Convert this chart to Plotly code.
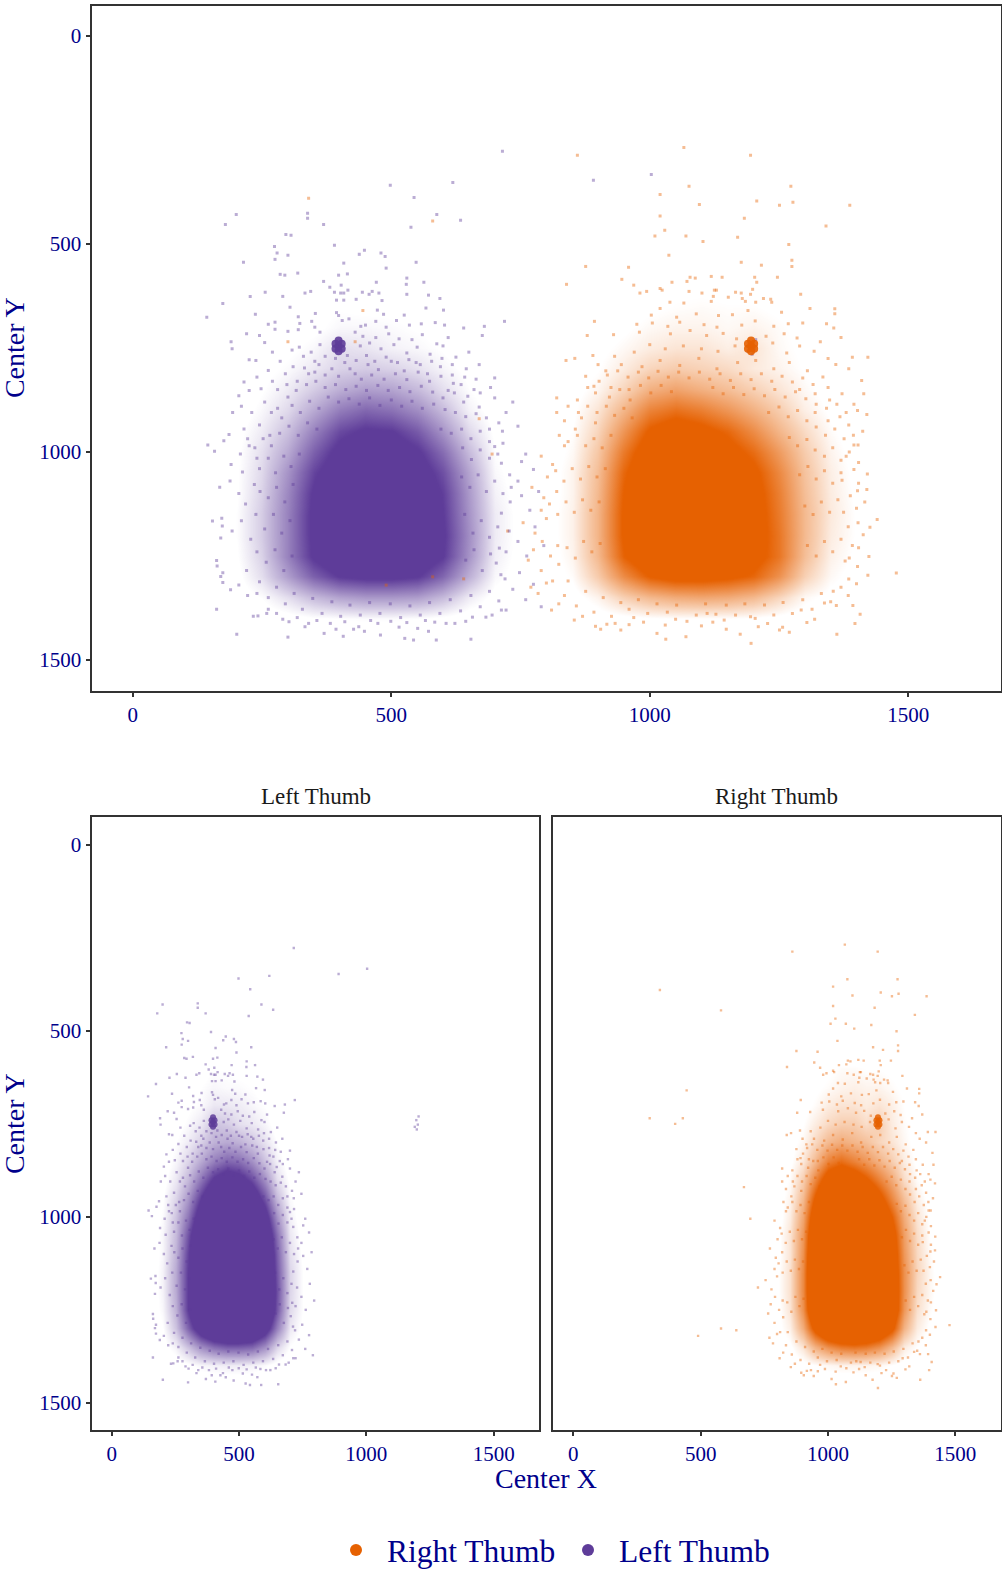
import plotly.graph_objects as go

ORANGE = "#E66101"
PURPLE = "#5E3C99"
NAVY = "#00008B"
FRAME = "#333333"
FONT = "Liberation Serif"

# Estimated share of dots per 50x50 cell (rows = Center Y, columns = Center X)
density_y = [550, 600, 650, 700, 750, 800, 850, 900, 950, 1000, 1050, 1100, 1150, 1200, 1250, 1300, 1350, 1400, 1450, 1500]
left_density_x = [100, 150, 200, 250, 300, 350, 400, 450, 500, 550, 600, 650, 700, 750, 800, 850]
left_density = [
    [0, 0, 0, 0, 0, 0, 0, 0, 0, 0, 0, 0, 0, 0, 0, 0],
    [0, 0, 0, .01, .02, .03, .05, .05, .04, .04, .02, .01, 0, 0, 0, 0],
    [0, 0, 0, .01, .03, .05, .07, .06, .06, .05, .03, .02, 0, 0, 0, 0],
    [0, 0, .01, .02, .04, .06, .10, .10, .09, .07, .05, .02, .01, 0, 0, 0],
    [0, 0, .01, .03, .06, .10, .18, .16, .12, .10, .07, .03, .01, 0, 0, 0],
    [0, 0, .01, .05, .09, .15, .22, .24, .22, .17, .11, .05, .02, 0, 0, 0],
    [0, 0, .02, .07, .14, .24, .34, .40, .38, .30, .18, .08, .02, 0, 0, 0],
    [0, 0, .03, .10, .20, .36, .52, .60, .56, .46, .30, .12, .04, .01, 0, 0],
    [0, .01, .05, .14, .28, .50, .70, .78, .76, .64, .44, .20, .06, .02, 0, 0],
    [0, .01, .06, .18, .36, .62, .82, .90, .88, .78, .58, .30, .08, .02, 0, 0],
    [0, .01, .07, .20, .44, .72, .90, .96, .95, .86, .68, .38, .10, .03, 0, 0],
    [0, .01, .07, .22, .48, .78, .92, .98, .98, .90, .74, .42, .12, .04, .01, 0],
    [0, .01, .08, .24, .50, .80, .94, 1, 1, .92, .76, .44, .14, .05, .01, 0],
    [0, .01, .08, .24, .50, .80, .94, 1, 1, .94, .78, .46, .14, .05, .01, 0],
    [0, .01, .07, .22, .50, .78, .92, .98, .97, .90, .76, .44, .13, .05, .01, 0],
    [0, 0, .05, .18, .40, .62, .76, .80, .80, .76, .60, .34, .10, .04, 0, 0],
    [0, 0, .03, .08, .18, .30, .38, .42, .42, .40, .30, .14, .05, .02, 0, 0],
    [0, 0, .01, .02, .04, .07, .08, .09, .09, .08, .06, .03, .01, 0, 0, 0],
    [0, 0, 0, 0, 0, .01, .01, .01, .01, .01, 0, 0, 0, 0, 0, 0],
    [0, 0, 0, 0, 0, 0, 0, 0, 0, 0, 0, 0, 0, 0, 0, 0],
]
right_density_x = [750, 800, 850, 900, 950, 1000, 1050, 1100, 1150, 1200, 1250, 1300, 1350, 1400, 1450, 1500]
right_density = [
    [0, 0, 0, 0, 0, 0, 0, 0, 0, 0, 0, 0, 0, 0, 0, 0],
    [0, 0, .01, .02, .03, .04, .06, .06, .05, .05, .04, .03, .01, 0, 0, 0],
    [0, 0, .01, .02, .04, .06, .08, .09, .08, .08, .06, .04, .02, 0, 0, 0],
    [0, 0, .01, .03, .06, .10, .12, .12, .10, .12, .09, .05, .02, .01, 0, 0],
    [0, 0, .02, .05, .10, .15, .18, .18, .14, .18, .10, .06, .03, .01, 0, 0],
    [0, .01, .03, .07, .15, .24, .28, .25, .22, .16, .12, .07, .03, .01, 0, 0],
    [0, .01, .04, .11, .24, .40, .46, .40, .34, .26, .18, .10, .04, .01, 0, 0],
    [0, .01, .06, .18, .38, .60, .68, .62, .52, .40, .28, .14, .06, .02, 0, 0],
    [0, .02, .08, .24, .52, .78, .88, .82, .72, .56, .38, .22, .09, .03, 0, 0],
    [0, .02, .10, .30, .64, .90, .98, .94, .84, .70, .50, .28, .12, .04, 0, 0],
    [0, .03, .12, .34, .72, .96, 1, .98, .92, .80, .58, .32, .14, .05, .01, 0],
    [0, .03, .12, .36, .76, .98, 1, 1, .95, .84, .62, .34, .15, .06, .01, 0],
    [0, .04, .13, .38, .78, .98, 1, 1, .96, .86, .64, .36, .16, .07, .01, 0],
    [0, .04, .13, .38, .78, .97, 1, 1, .97, .86, .66, .36, .15, .07, .01, 0],
    [0, .03, .12, .36, .74, .94, .98, .98, .94, .84, .66, .34, .13, .06, .01, 0],
    [0, .03, .09, .28, .56, .76, .84, .84, .80, .72, .54, .26, .10, .04, 0, 0],
    [0, .01, .04, .12, .26, .36, .42, .44, .42, .36, .24, .10, .05, .02, 0, 0],
    [0, 0, .01, .03, .05, .07, .08, .08, .08, .07, .05, .03, .02, .01, 0, 0],
    [0, 0, 0, 0, 0, .01, .01, .01, .01, .01, 0, 0, 0, 0, 0, 0],
    [0, 0, 0, 0, 0, 0, 0, 0, 0, 0, 0, 0, 0, 0, 0, 0],
]

# Individually readable dots (Center X, Center Y)
left_points = [
    (715, 277), (619, 352), (498, 359), (544, 388), (200, 429), (179, 453), (338, 426), (338, 438), (369, 453),
    (588, 429), (634, 443), (538, 460), (296, 477), (306, 479), (274, 506), (390, 503), (279, 522), (300, 527),
    (275, 537), (214, 544), (408, 546), (438, 525), (448, 515), (480, 522), (488, 530), (490, 558), (548, 544),
    (285, 573), (294, 575), (319, 570), (398, 575), (415, 572), (369, 590), (471, 592), (530, 582), (529, 597),
    (563, 592), (381, 604), (403, 599), (344, 614), (333, 618), (256, 616), (227, 626), (290, 626), (174, 643),
    (143, 676), (304, 652), (408, 618), (390, 616), (402, 618), (416, 611), (444, 616), (457, 621), (463, 614),
    (476, 618), (530, 621), (572, 623), (594, 631), (567, 654), (601, 659), (394, 635), (408, 635), (432, 633),
    (482, 636), (473, 659), (485, 669), (237, 669), (353, 667), (394, 665), (320, 675), (719, 686), (262, 693),
    (275, 688), (323, 691), (346, 686), (398, 672), (405, 684), (418, 680), (441, 698), (450, 695), (470, 686),
    (490, 700), (510, 684), (525, 671), (535, 695), (558, 692), (585, 689), (603, 695), (220, 716), (190, 735),
    (192, 752), (245, 720), (275, 705), (255, 737), (300, 710), (320, 706), (352, 700), (362, 712), (430, 712),
    (445, 722), (470, 725), (495, 716), (515, 728), (540, 730), (560, 718), (588, 740), (610, 725), (640, 702),
    (680, 698), (676, 720), (238, 780), (225, 778), (270, 760), (285, 782), (308, 755), (322, 748), (345, 760),
    (362, 742), (440, 745), (458, 738), (480, 752), (505, 742), (530, 762), (550, 748), (575, 765), (600, 745),
    (625, 772), (650, 760), (262, 804), (240, 820), (215, 832), (205, 865), (225, 852), (248, 848), (270, 830),
    (295, 812), (318, 830), (340, 812), (360, 790), (385, 800), (410, 785), (430, 812), (455, 790), (475, 802),
    (500, 782), (525, 805), (548, 785), (570, 812), (595, 795), (618, 815), (645, 800), (670, 790), (700, 822),
    (692, 845), (660, 850), (635, 838), (610, 852), (210, 890), (230, 905), (255, 880), (280, 895), (300, 868),
    (640, 880), (670, 892), (700, 870), (722, 905), (735, 880), (193, 905), (186, 958), (215, 945), (245, 935),
    (265, 960), (690, 945), (715, 950), (745, 938), (145, 983), (158, 998), (176, 973), (208, 1005), (225, 985),
    (190, 1030), (212, 1048), (240, 1015), (700, 987), (716, 979), (752, 1023), (713, 1027), (729, 1055), (745, 1070),
    (760, 1005), (775, 1042), (168, 1085), (188, 1070), (205, 1100), (218, 1125), (235, 1078), (709, 1231), (713, 1147),
    (730, 1120), (752, 1105), (768, 1140), (785, 1095), (154, 1166), (172, 1159), (173, 1178), (170, 1207), (192, 1190),
    (210, 1165), (228, 1210), (703, 1267), (728, 1190), (745, 1215), (762, 1250), (778, 1180), (795, 1225), (162, 1261),
    (163, 1274), (174, 1290), (170, 1299), (174, 1314), (189, 1331), (162, 1378), (205, 1320), (220, 1285), (240, 1340),
    (201, 1438), (300, 1445), (370, 1436), (407, 1443), (479, 1440), (526, 1448), (543, 1452), (587, 1452), (654, 1450),
    (722, 1380), (713, 1380), (695, 1392), (683, 1397), (657, 1397), (644, 1407), (623, 1412), (606, 1412), (584, 1409),
    (572, 1431), (551, 1424), (515, 1421), (499, 1407), (474, 1412), (448, 1431), (437, 1420), (427, 1426), (393, 1426),
    (382, 1412), (340, 1412), (333, 1420), (302, 1408), (290, 1402), (278, 1388), (259, 1388), (242, 1394), (233, 1395),
    (720, 1305), (735, 1330), (748, 1290), (760, 1355), (775, 1318), (790, 1372),
    (1003, 333), (891, 347), (1196, 740), (1202, 752), (1190, 758), (1205, 730), (1198, 765),
]
left_points_mid = [
    (330, 770), (352, 782), (372, 770), (392, 775), (415, 768), (432, 780), (452, 768), (468, 782), (490, 772), (512, 785),
    (534, 778), (556, 790), (578, 782), (598, 775), (618, 790), (310, 795), (332, 798), (352, 808), (372, 815), (398, 818),
    (420, 800), (442, 825), (462, 815), (486, 825), (508, 812), (530, 826), (552, 808), (574, 830), (596, 818), (620, 835),
    (642, 820), (664, 825), (280, 850), (298, 838), (316, 852), (336, 838), (354, 830), (372, 845), (392, 838), (412, 850),
    (432, 842), (452, 852), (474, 840), (494, 852), (516, 845), (536, 855), (558, 842), (580, 856), (600, 870), (622, 858),
    (648, 866), (672, 858), (268, 905), (288, 918), (308, 888), (324, 905), (342, 878), (360, 895), (378, 868), (398, 880),
    (418, 872), (438, 885), (458, 870), (478, 888), (500, 875), (520, 890), (540, 878), (560, 895), (582, 885), (604, 898),
    (624, 905), (644, 915), (664, 908), (684, 918), (708, 930), (222, 968), (236, 990), (252, 968), (268, 985), (284, 955),
    (302, 938), (320, 960), (338, 930), (356, 945), (596, 945), (616, 955), (636, 945), (654, 968), (672, 950), (690, 975),
    (706, 1005), (690, 1015), (672, 995), (655, 1018), (638, 990), (245, 1040), (262, 1015), (276, 1050), (292, 1010), (306, 1035),
    (322, 1005), (246, 1095), (262, 1110), (278, 1085), (294, 1120), (310, 1078), (636, 1060), (652, 1085), (668, 1055), (684, 1095),
    (700, 1070), (716, 1100), (732, 1085), (238, 1150), (255, 1185), (272, 1150), (288, 1195), (304, 1165), (642, 1150), (658, 1195),
    (674, 1165), (690, 1205), (706, 1180), (722, 1240), (240, 1240), (258, 1265), (275, 1235), (292, 1285), (308, 1250), (644, 1260),
    (660, 1235), (676, 1285), (692, 1245), (712, 1295), (222, 1345), (245, 1312), (262, 1350), (278, 1325), (295, 1365), (312, 1340),
    (328, 1378), (348, 1352), (366, 1388), (385, 1360), (402, 1395), (420, 1368), (440, 1392), (458, 1362), (478, 1388), (498, 1365),
    (518, 1398), (536, 1370), (556, 1392), (574, 1362), (594, 1388), (614, 1355), (634, 1382), (654, 1345), (672, 1372), (690, 1335),
    (708, 1358), (262, 1378), (318, 1398), (356, 1405), (410, 1408), (460, 1405), (530, 1410), (566, 1405),
]
left_cluster = [(398, 745), (392, 740), (404, 740), (392, 752), (404, 752), (398, 732), (398, 758)]
right_points = [
    (860, 287), (1066, 268), (1195, 287), (1076, 361), (1273, 361), (1020, 381), (1096, 405), (1207, 397), (1251, 407),
    (1277, 400), (1387, 407), (1020, 433), (1183, 438), (1341, 457), (1029, 467), (1010, 481), (1070, 481), (1103, 494),
    (1170, 484), (1269, 501), (1037, 527), (1275, 539), (1275, 554), (1177, 544), (1216, 551), (876, 554), (959, 556),
    (946, 585), (839, 597), (969, 599), (1043, 592), (1078, 580), (1088, 582), (1119, 578), (1140, 580), (1203, 580),
    (1247, 580), (1207, 592), (1072, 590), (981, 618), (994, 614), (1020, 607), (1024, 611), (1076, 614), (1101, 618),
    (1125, 611), (1129, 611), (1166, 616), (1177, 618), (1195, 621), (1199, 609), (1292, 621), (1123, 626), (1152, 628),
    (1179, 631), (1185, 638), (1220, 631), (1234, 633), (1236, 640), (1039, 640), (1066, 642), (1119, 638), (1205, 640),
    (1020, 655), (1003, 671), (1052, 676), (1090, 668), (1133, 672), (1160, 670), (1190, 660), (1255, 664), (1310, 655),
    (1358, 656), (1358, 668), (893, 686), (975, 693), (1005, 690), (1035, 698), (1058, 688), (1105, 694), (1130, 700),
    (1178, 695), (1204, 685), (1240, 698), (1268, 692), (1296, 690), (1342, 692), (1356, 702), (879, 720), (930, 718),
    (980, 712), (1040, 716), (1078, 708), (1110, 720), (1142, 715), (1168, 728), (1225, 722), (1260, 716), (1285, 726),
    (1330, 735), (1370, 725), (855, 775), (838, 780), (890, 768), (932, 770), (970, 760), (1000, 742), (1030, 752),
    (1065, 745), (1100, 752), (1132, 758), (1165, 745), (1238, 738), (1265, 762), (1290, 745), (1318, 758), (1345, 775),
    (1392, 772), (1422, 772), (876, 818), (892, 842), (915, 805), (945, 790), (985, 795), (1020, 780), (1058, 792),
    (1095, 775), (1130, 800), (1170, 785), (1205, 780), (1240, 800), (1270, 785), (1305, 805), (1335, 820), (1360, 790),
    (1385, 800), (1410, 828), (820, 870), (860, 875), (895, 858), (925, 845), (960, 850), (1290, 850), (1320, 860),
    (1348, 875), (1372, 860), (1395, 885), (1414, 860), (820, 905), (835, 925), (856, 945), (868, 918), (895, 930),
    (1320, 905), (1345, 925), (1368, 915), (1385, 935), (1402, 900), (1420, 910), (1395, 983), (1403, 983), (1421, 1053),
    (1402, 1093), (1416, 1120), (1403, 1170), (1413, 1199), (1440, 1162), (1426, 1181), (1424, 1251), (1422, 1296), (1477, 1291),
    (1380, 1010), (1395, 1042), (1372, 1068), (1388, 1105), (1375, 1145), (1392, 1225), (1378, 1262), (1402, 1275), (1385, 1305),
    (1407, 1390), (1397, 1412), (1362, 1438), (1196, 1460), (1270, 1433), (1257, 1421), (1175, 1438), (1148, 1426), (1070, 1444),
    (1031, 1450), (1014, 1436), (944, 1428), (905, 1426), (895, 1419), (854, 1404), (810, 1380), (917, 1414), (933, 1412),
    (969, 1398), (988, 1409), (1030, 1416), (1050, 1402), (1072, 1407), (1111, 1388), (1122, 1409), (1144, 1404), (1195, 1396),
    (1228, 1412), (1251, 1428), (1293, 1380), (1319, 1402), (1338, 1363), (1361, 1369), (1393, 1369), (1400, 1317), (1355, 1335),
    (790, 1010), (812, 1030), (835, 985), (772, 1085), (795, 1110), (820, 1095), (755, 1170), (778, 1195), (800, 1160),
    (822, 1225), (765, 1260), (790, 1285), (812, 1310), (835, 1345), (770, 1325), (300, 735), (400, 750), (430, 735),
    (340, 390), (580, 445), (445, 660), (490, 1320), (580, 1300), (640, 1305), (670, 920), (695, 1005), (725, 1190),
]
right_points_mid = [
    (900, 790), (918, 815), (938, 805), (958, 820), (978, 808), (998, 822), (1016, 806), (1036, 820), (1056, 808), (1076, 822),
    (1096, 808), (1116, 825), (1136, 812), (1156, 828), (1176, 812), (1196, 826), (1216, 812), (1236, 830), (1256, 818), (1276, 832),
    (1296, 822), (1316, 838), (1345, 845), (880, 845), (902, 830), (922, 868), (942, 850), (962, 875), (982, 840), (1002, 858),
    (1022, 840), (1042, 855), (1122, 845), (1142, 860), (1162, 845), (1182, 862), (1202, 848), (1222, 865), (1242, 850), (1262, 868),
    (1282, 855), (1302, 872), (1322, 885), (1342, 895), (1362, 885), (1380, 905), (842, 890), (862, 905), (880, 890), (898, 905),
    (916, 890), (932, 912), (950, 895), (966, 918), (1230, 905), (1250, 892), (1268, 915), (1286, 900), (1304, 925), (1322, 940),
    (1340, 960), (1358, 945), (1376, 968), (1394, 960), (1412, 950), (825, 960), (842, 975), (860, 960), (876, 985), (892, 968),
    (908, 990), (925, 960), (1270, 965), (1286, 985), (1304, 970), (1320, 995), (1338, 1010), (1354, 990), (1370, 1020), (1386, 1000),
    (1404, 1025), (802, 1060), (818, 1045), (834, 1070), (850, 1040), (866, 1065), (882, 1035), (898, 1060), (914, 1040), (1290, 1055),
    (1306, 1035), (1322, 1065), (1338, 1045), (1354, 1075), (1370, 1050), (1404, 1075), (1420, 1090), (790, 1140), (806, 1125), (822, 1150),
    (838, 1120), (854, 1145), (870, 1115), (886, 1140), (902, 1120), (1300, 1130), (1316, 1150), (1332, 1120), (1348, 1145), (1364, 1115),
    (1384, 1180), (1400, 1135), (775, 1235), (792, 1215), (808, 1250), (824, 1270), (840, 1230), (856, 1255), (872, 1215), (888, 1240),
    (904, 1220), (1305, 1225), (1322, 1250), (1338, 1215), (1354, 1240), (1370, 1210), (1386, 1255), (1404, 1230), (784, 1340), (800, 1315),
    (824, 1365), (842, 1310), (858, 1370), (876, 1335), (892, 1385), (910, 1350), (926, 1395), (944, 1362), (960, 1378), (978, 1355),
    (996, 1388), (1014, 1365), (1034, 1385), (1052, 1368), (1090, 1392), (1108, 1365), (1128, 1390), (1148, 1368), (1166, 1392), (1184, 1365),
    (1204, 1400), (1222, 1368), (1240, 1392), (1258, 1362), (1276, 1388), (1296, 1355), (1314, 1378), (1332, 1340), (1350, 1360), (1370, 1325),
    (1384, 1345), (1304, 1410), (1210, 1420), (1100, 1418), (960, 1415), (870, 1395),
]
right_cluster = [(1196, 745), (1190, 740), (1202, 740), (1190, 752), (1202, 752), (1196, 732), (1196, 758)]

legend_names = ["Right Thumb", "Left Thumb"]
facet_titles = ["Left Thumb", "Right Thumb"]
axis_ticks = [0, 500, 1000, 1500]
x_title = "Center X"
y_title = "Center Y"

W, H = 1002, 1577
S = 1577 / 1568  # the layout was measured on the picture as displayed
fig = go.Figure()


def xdom(a, b):
    return [a * S / W, b * S / W]


def ydom(a, b):
    return [1 - b * S / H, 1 - a * S / H]


def scale(color):
    r, g, b = int(color[1:3], 16), int(color[3:5], 16), int(color[5:7], 16)
    return [[0, f"rgba({r},{g},{b},0)"], [0.1, f"rgba({r},{g},{b},0)"], [0.35, f"rgba({r},{g},{b},0.3)"],
            [1, f"rgba({r},{g},{b},1)"]]


def heat(xs, z, color, xa, ya, zmax):
    fig.add_trace(go.Heatmap(x=xs, y=density_y, z=z, zmin=0, zmax=zmax, zsmooth="best", showscale=False,
                             colorscale=scale(color), hoverinfo="skip", xaxis=xa, yaxis=ya))


def dots(pts, color, xa, ya, size, op, name, symbol="square"):
    fig.add_trace(go.Scatter(x=[p[0] for p in pts], y=[p[1] for p in pts], mode="markers", name=name,
                             showlegend=False, xaxis=xa, yaxis=ya,
                             marker=dict(symbol=symbol, size=size, color=color, opacity=op, line_width=0)))


left_all = left_points + left_points_mid
right_all = right_points + right_points_mid

# top panel
heat(right_density_x, right_density, ORANGE, "x", "y", 0.75)
heat(left_density_x, left_density, PURPLE, "x", "y", 0.75)
dots(right_all, ORANGE, "x", "y", 3, 0.42, legend_names[0])
dots(left_all, PURPLE, "x", "y", 3, 0.42, legend_names[1])
dots(right_cluster, ORANGE, "x", "y", 8, 0.9, legend_names[0], "circle")
dots(left_cluster, PURPLE, "x", "y", 8, 0.9, legend_names[1], "circle")
# facets
heat(left_density_x, left_density, PURPLE, "x2", "y2", 0.5)
dots(left_all, PURPLE, "x2", "y2", 2.4, 0.42, legend_names[1])
dots(left_cluster, PURPLE, "x2", "y2", 6, 0.85, legend_names[1], "circle")
heat(right_density_x, right_density, ORANGE, "x3", "y3", 0.5)
dots(right_all, ORANGE, "x3", "y3", 2.4, 0.42, legend_names[0])
dots(right_cluster, ORANGE, "x3", "y3", 6, 0.85, legend_names[0], "circle")

# legend keys
for name, color in zip(legend_names, [ORANGE, PURPLE]):
    fig.add_trace(go.Scatter(x=[None], y=[None], mode="markers", name=name, xaxis="x", yaxis="y",
                             marker=dict(symbol="circle", size=7, color=color)))

axis_common = dict(tickvals=axis_ticks, ticktext=[str(t) for t in axis_ticks], ticklen=4, tickwidth=2,
                   tickcolor=FRAME, showgrid=False, zeroline=False, showline=True, mirror=True, linecolor=FRAME,
                   linewidth=2, tickfont=dict(family=FONT, size=21, color=NAVY), automargin=False)


def label(text, px, py, size, color, angle=0):
    return dict(text=text, x=px * S / W, y=1 - py * S / H, xref="paper", yref="paper", showarrow=False,
                xanchor="center", yanchor="middle", textangle=angle,
                font=dict(family=FONT, size=size, color=color))


fig.update_layout(
    width=W, height=H, margin=dict(l=0, r=0, t=0, b=0), paper_bgcolor="white", plot_bgcolor="white",
    font=dict(family=FONT),
    xaxis=dict(domain=xdom(91, 995), range=[-80, 1679], ticks="outside", **axis_common),
    yaxis=dict(domain=ydom(6, 691), range=[1574.5, -72], ticks="outside", **axis_common),
    xaxis2=dict(domain=xdom(91, 536), range=[-79, 1678], anchor="y2", ticks="outside", **axis_common),
    yaxis2=dict(domain=ydom(817, 1430), range=[1573, -75], anchor="x2", ticks="outside", **axis_common),
    xaxis3=dict(domain=xdom(550, 995), range=[-79, 1678], anchor="y3", ticks="outside", **axis_common),
    yaxis3=dict(domain=ydom(817, 1430), range=[1573, -75], anchor="x3", showticklabels=False, ticks="", **axis_common),
    legend=dict(orientation="h", x=325 / W, xanchor="left", y=1 - 1550 * S / H, yanchor="middle",
                font=dict(family=FONT, size=31.5, color=NAVY), bgcolor="rgba(0,0,0,0)", itemsizing="constant",
                itemwidth=52, entrywidth=165, entrywidthmode="pixels", traceorder="normal"),
    annotations=[
        label(facet_titles[0], 314, 796, 23, "#1a1a1a"),
        label(facet_titles[1], 772, 796, 23, "#1a1a1a"),
        label(x_title, 543, 1478, 28, NAVY),
        label(y_title, 14, 348, 28, NAVY, -90),
        label(y_title, 14, 1124, 28, NAVY, -90),
    ],
)

fig.write_html("out.html", config={"displayModeBar": False},
               post_script="document.body.style.margin='0';document.documentElement.style.overflow='hidden';")
